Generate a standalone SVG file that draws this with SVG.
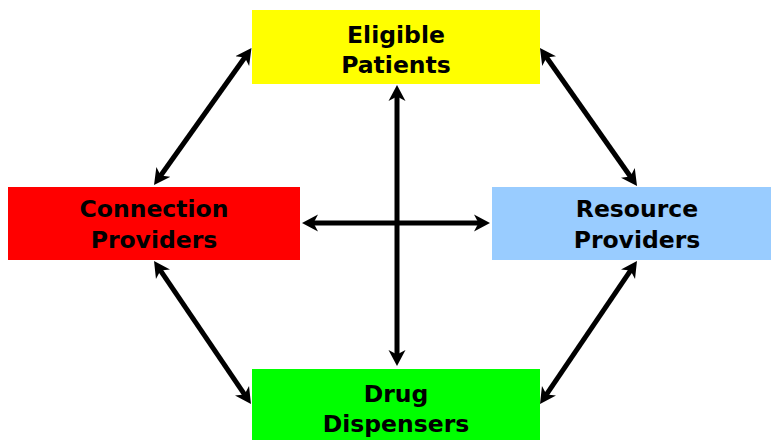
<svg xmlns="http://www.w3.org/2000/svg" width="771" height="440" viewBox="0 0 771 440">
  <style>
    .box { stroke: none; }
    .label { font-family: "DejaVu Sans", Verdana, sans-serif; font-weight: bold; font-size: 23.5px; fill: #000; text-anchor: middle; }
    .link { stroke: #000; stroke-width: 5; fill: none; marker-start: url(#tip); marker-end: url(#tip); }
  </style>
  <defs>
    <!-- notched double-ended arrowhead; the line stops inside the notch -->
    <marker id="tip" markerUnits="userSpaceOnUse" viewBox="0 -9 18 18" markerWidth="18" markerHeight="18" refX="5" refY="0" orient="auto-start-reverse">
      <path d="M0,-8.5 L16,0 L0,8.5 L4.5,0 Z" fill="#000"/>
    </marker>
  </defs>
  <rect width="771" height="440" fill="#fff"/>

  <g id="connectors">
    <line class="link" x1="160.4" y1="176.0" x2="245.1" y2="57.0"/>
    <line class="link" x1="546.3" y1="57.0" x2="630.7" y2="177.0"/>
    <line class="link" x1="160.2" y1="270.1" x2="244.8" y2="394.9"/>
    <line class="link" x1="546.2" y1="394.9" x2="630.8" y2="270.1"/>
    <line class="link" x1="397" y1="96" x2="397" y2="355"/>
    <line class="link" x1="313" y1="223" x2="479" y2="223"/>
  </g>

  <g id="eligible-patients">
    <rect class="box" x="252" y="10" width="288" height="74" fill="#FFFF00"/>
    <text class="label" x="396" y="43">Eligible</text>
    <text class="label" x="396" y="73">Patients</text>
  </g>

  <g id="connection-providers">
    <rect class="box" x="8" y="187" width="292" height="73" fill="#FF0000"/>
    <text class="label" x="154" y="217">Connection</text>
    <text class="label" x="154" y="248">Providers</text>
  </g>

  <g id="resource-providers">
    <rect class="box" x="492" y="187" width="290" height="73" fill="#99CCFF"/>
    <text class="label" x="637" y="217">Resource</text>
    <text class="label" x="637" y="248">Providers</text>
  </g>

  <g id="drug-dispensers">
    <rect class="box" x="252" y="369" width="288" height="74" fill="#00FF00"/>
    <text class="label" x="396" y="402">Drug</text>
    <text class="label" x="396" y="432">Dispensers</text>
  </g>
</svg>
